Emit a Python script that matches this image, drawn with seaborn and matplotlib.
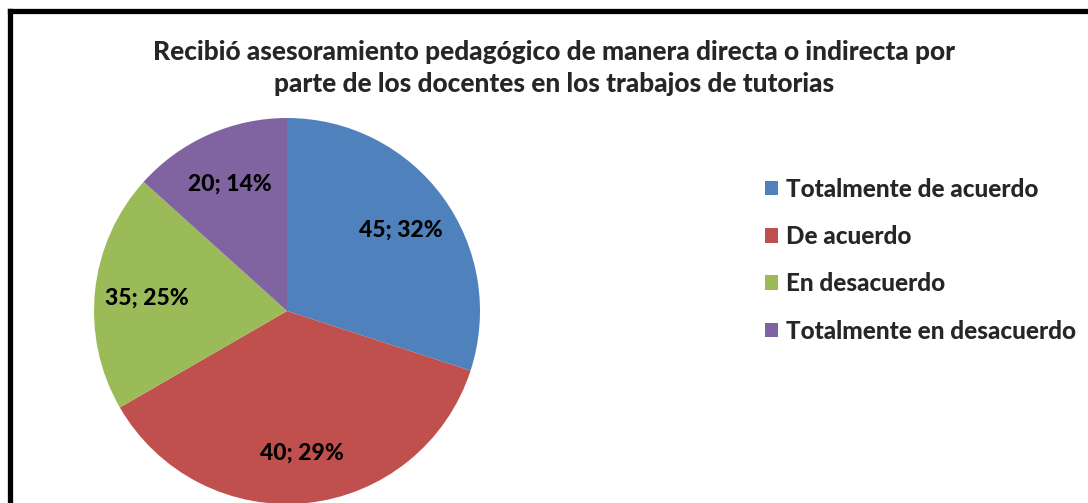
import matplotlib
matplotlib.use("Agg")
import matplotlib.pyplot as plt
from matplotlib.lines import Line2D
from matplotlib.patches import Patch
import seaborn as sns

categories = ["Totalmente de acuerdo", "De acuerdo", "En desacuerdo", "Totalmente en desacuerdo"]
# wedge sizes as drawn in the picture (slice angles), and the printed label values
wedge_values = [45, 55, 30, 20]
label_values = [45, 40, 35, 20]
label_percents = [32, 29, 25, 14]
title = "Recibió asesoramiento pedagógico de manera directa o indirecta por\nparte de los docentes en los trabajos de tutorias"

sns.set_theme(style="white")
plt.rcParams["font.family"] = ["Lato", "DejaVu Sans"]
colors = ["#4F81BD", "#C0504D", "#9BBB59", "#8064A2"]

W, H = 1088, 503
fig = plt.figure(figsize=(W / 100, H / 100), dpi=100)
fig.patch.set_facecolor("white")

cx, cy, r = 287, 311, 193
ax = fig.add_axes([(cx - r) / W, (H - cy - r) / H, 2 * r / W, 2 * r / H])
labels = [f"{v}; {p}%" for v, p in zip(label_values, label_percents)]
wedges, texts = ax.pie(wedge_values, colors=colors, startangle=90, counterclock=False,
                       labels=labels, labeldistance=0.73,
                       wedgeprops=dict(linewidth=0),
                       textprops=dict(fontsize=16.5, fontweight=900, color="black"))
for t in texts:
    t.set_horizontalalignment("center")
    t.set_verticalalignment("center_baseline")
ax.set_xlim(-1, 1)
ax.set_ylim(-1, 1)
ax.set_aspect("equal")
ax.axis("off")

fig.text(554 / W, 1 - 68 / H, title, ha="center", va="center", fontsize=18.9,
         fontweight=900, linespacing=1.42)

handles = [Patch(facecolor=c, edgecolor="none") for c in colors]
leg = fig.legend(handles, categories, loc="upper left", bbox_to_anchor=(755 / W, 1 - 168 / H),
                 frameon=False, prop=dict(size=17.5, weight=900),
                 handlelength=0.55, handleheight=0.55, handletextpad=0.33,
                 labelspacing=1.0, borderaxespad=0)

# chart border (cut off at right and bottom)
fig.add_artist(Line2D([9.5 / W, 9.5 / W], [-0.05, 1 - 10.7 / H], transform=fig.transFigure,
                      color="black", linewidth=3.8, solid_capstyle="projecting"))
fig.add_artist(Line2D([9.5 / W, 1.05], [1 - 10.7 / H, 1 - 10.7 / H], transform=fig.transFigure,
                      color="black", linewidth=3.8, solid_capstyle="projecting"))

fig.savefig("out.png", dpi=100, facecolor="white")
